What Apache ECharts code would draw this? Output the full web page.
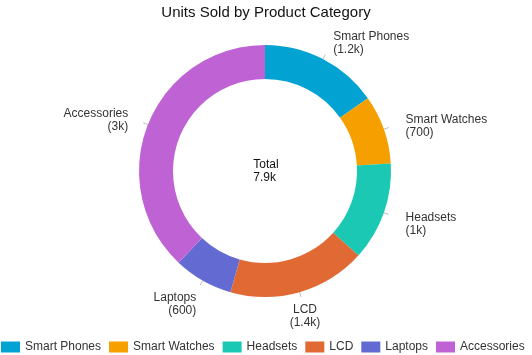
<!DOCTYPE html>
<html><head><meta charset="utf-8">
<script src="https://cdn.jsdelivr.net/npm/echarts@6/dist/echarts.min.js"></script>
<style>html,body{margin:0;padding:0;background:#fff}#c{width:532px;height:355px}</style>
</head><body><div id="c"></div>
<script>
const categories = ["Smart Phones","Smart Watches","Headsets","LCD","Laptops","Accessories"];
const unitsSold = [1200,700,1000,1400,600,3000];
const colors = ["#02a3d2","#f59f00","#1ac8b4","#e06934","#636bd3","#bf62d4"];
// label placement tweaks (style only): distance to tick end, vertical shift, centred lines
const labelTweaks = [
  {d:8,   shift:-11.5},
  {d:17,  shift:-1},
  {d:17,  shift:9.5},
  {d:-12, shift:19.5, center:true},
  {d:4,   shift:19},
  {d:15,  shift:-2}
];
const fmt = v => v >= 1000 ? (Math.round(v/100)/10) + "k" : String(v);
const total = unitsSold.reduce((a,b)=>a+b,0);
const FONT = "Liberation Sans, Arial";
const chart = echarts.init(document.getElementById('c'));
function labelFor(i){
  const t = labelTweaks[i];
  const h = Math.abs(t.shift*2);
  const ts = t.center ? "c" : "t";
  const lines = ["{"+ts+"|"+categories[i]+"}", "{"+ts+"|("+fmt(unitsSold[i])+")}"];
  if (t.shift > 0) lines.unshift("{sp|\u00a0}");
  else if (t.shift < 0) lines.push("{sp|\u00a0}");
  return {
    distanceToLabelLine:t.d,
    formatter: lines.join("\n"),
    rich:{
      t:{fontFamily:FONT,fontSize:12,color:"#333",lineHeight:13},
      c:{fontFamily:FONT,fontSize:12,color:"#333",lineHeight:13,width:32,align:"center"},
      sp:{fontSize:1,lineHeight:h,height:h}
    }
  };
}
chart.setOption({
  animation:false,
  color: colors,
  title:{text:"Units Sold by Product Category",left:"center",top:0,
    textStyle:{fontFamily:FONT,fontSize:15,fontWeight:"normal",color:"#111"}},
  graphic:[{type:"text",left:"center",top:158,style:{text:"Total\n"+fmt(total),
    font:"12px Liberation Sans, Arial",fill:"#111",align:"center",lineHeight:13}}],
  legend:{bottom:2,left:1,padding:0,itemWidth:19,itemHeight:11,itemGap:8,icon:"rect",
    textStyle:{fontFamily:FONT,fontSize:12,color:"#333"}},
  series:[{type:"pie",center:[265,171],radius:[92,126],startAngle:90,clockwise:true,
    avoidLabelOverlap:false,
    label:{show:true,fontFamily:FONT,fontSize:12,color:"#333",lineHeight:13},
    labelLine:{show:true,length:5,length2:0,lineStyle:{color:"#bbb",width:1}},
    itemStyle:{borderWidth:0},
    emphasis:{disabled:true},
    data:categories.map((n,i)=>({name:n,value:unitsSold[i],label:labelFor(i)}))}]
});
</script></body></html>
